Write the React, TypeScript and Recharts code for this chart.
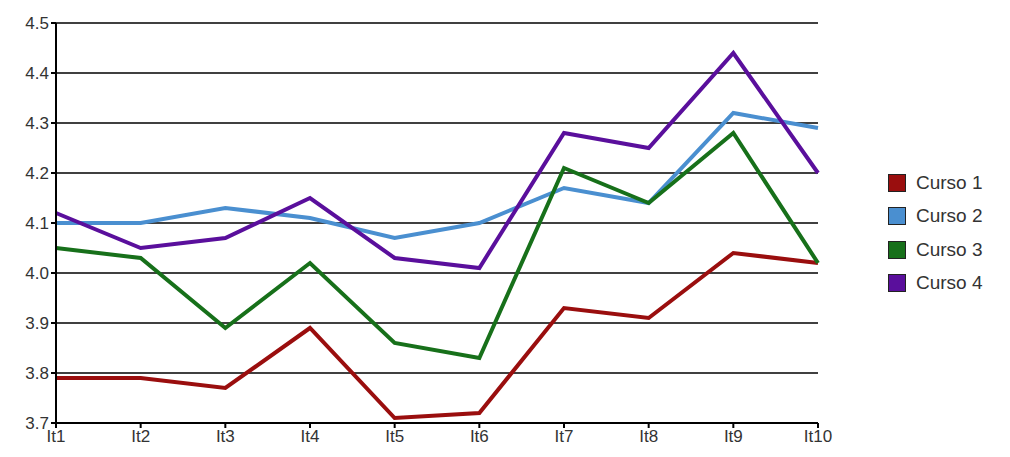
import { LineChart, Line, XAxis, YAxis, CartesianGrid } from 'recharts'

const items = ['It1', 'It2', 'It3', 'It4', 'It5', 'It6', 'It7', 'It8', 'It9', 'It10']
const curso1 = [3.79, 3.79, 3.77, 3.89, 3.71, 3.72, 3.93, 3.91, 4.04, 4.02]
const curso2 = [4.1, 4.1, 4.13, 4.11, 4.07, 4.1, 4.17, 4.14, 4.32, 4.29]
const curso3 = [4.05, 4.03, 3.89, 4.02, 3.86, 3.83, 4.21, 4.14, 4.28, 4.02]
const curso4 = [4.12, 4.05, 4.07, 4.15, 4.03, 4.01, 4.28, 4.25, 4.44, 4.2]
const yTicks = [3.7, 3.8, 3.9, 4.0, 4.1, 4.2, 4.3, 4.4, 4.5]

const series = [
  { key: 'c1', name: 'Curso 1', color: '#9a0e0e' },
  { key: 'c2', name: 'Curso 2', color: '#4a8fd0' },
  { key: 'c3', name: 'Curso 3', color: '#17701a' },
  { key: 'c4', name: 'Curso 4', color: '#5a0f9c' },
]

export default function App() {
  const data = items.map((it, i) => ({
    it,
    c1: curso1[i],
    c2: curso2[i],
    c3: curso3[i],
    c4: curso4[i],
  }))
  const tickStyle = { fill: '#333', fontSize: 17, fontFamily: 'Liberation Sans, Arial' }

  return (
    <div style={{ position: 'absolute', left: 0, top: 0, width: 1010, height: 457, background: '#fff' }}>
      <LineChart width={1010} height={457} data={data} margin={{ top: 23, right: 192, left: 6, bottom: 0 }}>
        <CartesianGrid vertical={false} stroke="#000" strokeWidth={1.5} />
        <XAxis
          dataKey="it"
          height={34}
          stroke="#000"
          strokeWidth={2}
          tick={tickStyle}
          tickSize={5}
          padding={{ left: 0, right: 0 }}
        />
        <YAxis
          width={50}
          domain={[3.7, 4.5]}
          ticks={yTicks}
          stroke="#000"
          strokeWidth={2}
          tick={tickStyle}
          tickSize={5}
          tickFormatter={(v: number) => v.toFixed(1)}
        />
        {series.map(s => (
          <Line
            key={s.key}
            dataKey={s.key}
            name={s.name}
            stroke={s.color}
            strokeWidth={4}
            dot={false}
            type="linear"
            isAnimationActive={false}
          />
        ))}
      </LineChart>
      <div style={{ position: 'absolute', left: 888, top: 166, fontFamily: 'Liberation Sans, Arial', fontSize: 19, color: '#333' }}>
        {series.map(s => (
          <div key={s.key} style={{ display: 'flex', alignItems: 'center', height: 33.5 }}>
            <span style={{ width: 16, height: 16, background: s.color, border: '1.5px solid #222', marginRight: 10 }} />
            {s.name}
          </div>
        ))}
      </div>
    </div>
  )
}
